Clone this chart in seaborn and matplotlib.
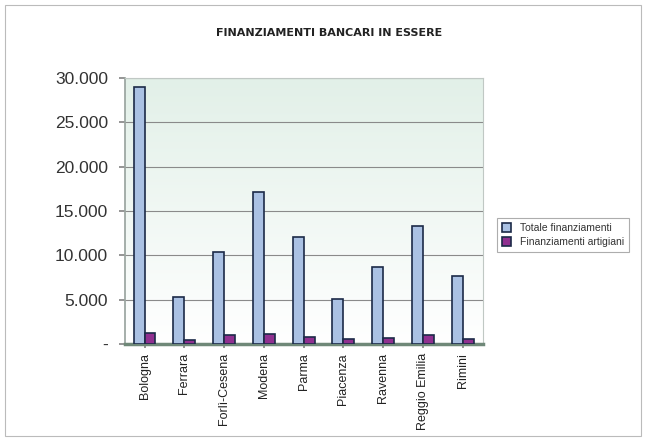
import matplotlib
matplotlib.use("Agg")
import matplotlib.pyplot as plt
import seaborn as sns
import numpy as np
import pandas as pd
from matplotlib.ticker import FuncFormatter, MultipleLocator
from matplotlib.patches import Rectangle
from matplotlib.colors import LinearSegmentedColormap

categories = ["Bologna", "Ferrara", "Forlì-Cesena", "Modena", "Parma",
              "Piacenza", "Ravenna", "Reggio Emilia", "Rimini"]
totale = [29000, 5300, 10400, 17200, 12100, 5100, 8700, 13300, 7700]
artigiani = [1200, 400, 1000, 1100, 800, 600, 700, 1000, 600]
series_names = ["Totale finanziamenti", "Finanziamenti artigiani"]

df = pd.DataFrame({
    "Provincia": categories * 2,
    "Valore": totale + artigiani,
    "Serie": [series_names[0]] * len(categories) + [series_names[1]] * len(categories),
})

sns.set_theme(style="white")
plt.rcParams['font.family'] = ['Liberation Sans', 'DejaVu Sans']

fig = plt.figure(figsize=(6.46, 4.41), dpi=100)
ax = fig.add_axes([0.193, 0.22, 0.554, 0.603])

# gradient back wall
grad = np.linspace(0, 1, 256).reshape(-1, 1)
cmap = LinearSegmentedColormap.from_list("wall", ["#ffffff", "#e2f0e8"])
ax.imshow(grad, aspect="auto", cmap=cmap, origin="lower",
          extent=(-0.5, len(categories) - 0.5, 0, 30000), zorder=0)

sns.barplot(data=df, x="Provincia", y="Valore", hue="Serie",
            palette=["#a0c0ec", "#a020a0"], width=0.55, gap=0.0,
            edgecolor="#1c2a48", linewidth=1.2, ax=ax, zorder=3,
            legend=True)

ax.set_xlim(-0.5, len(categories) - 0.5)
ax.set_ylim(0, 30000)
ax.yaxis.set_major_locator(MultipleLocator(5000))

def fmt(v, pos):
    if v == 0:
        return "-"
    return f"{int(v):,}".replace(",", ".")

ax.yaxis.set_major_formatter(FuncFormatter(fmt))
ax.grid(axis="y", color="#8a8a8a", linewidth=0.8, zorder=1)
ax.set_axisbelow(True)
ax.set_xlabel("")
ax.set_ylabel("")
for s in ["top", "right"]:
    ax.spines[s].set_color("#c0c8c4")
    ax.spines[s].set_linewidth(0.8)
ax.spines["left"].set_color("#9aa5a0")
ax.spines["bottom"].set_color("#6f8878")
ax.spines["bottom"].set_linewidth(2.5)

ax.tick_params(axis="y", labelsize=12.5, labelcolor="#333333", length=4, left=True,
               color="#888888", pad=8)
ax.tick_params(axis="x", labelsize=9, labelcolor="#222222", rotation=90, length=3,
               bottom=True, color="#888888")

fig.text(0.51, 0.925, "FINANZIAMENTI BANCARI IN ESSERE", ha="center", va="center",
         fontsize=8, fontweight="bold", color="#222222", family="DejaVu Sans")

leg = ax.legend(loc="center left", bbox_to_anchor=(1.025, 0.41), fontsize=7.5,
                frameon=True, fancybox=False, edgecolor="#999999",
                handlelength=0.9, handleheight=0.9, borderpad=0.5, labelspacing=0.4)
leg.get_frame().set_linewidth(0.8)
for t in leg.get_texts():
    t.set_color("#333333")

fig.patches.append(Rectangle((0.008, 0.012), 0.984, 0.976, transform=fig.transFigure,
                             fill=False, edgecolor="#bbbbbb", linewidth=0.8))

fig.savefig("out.png", dpi=100)
